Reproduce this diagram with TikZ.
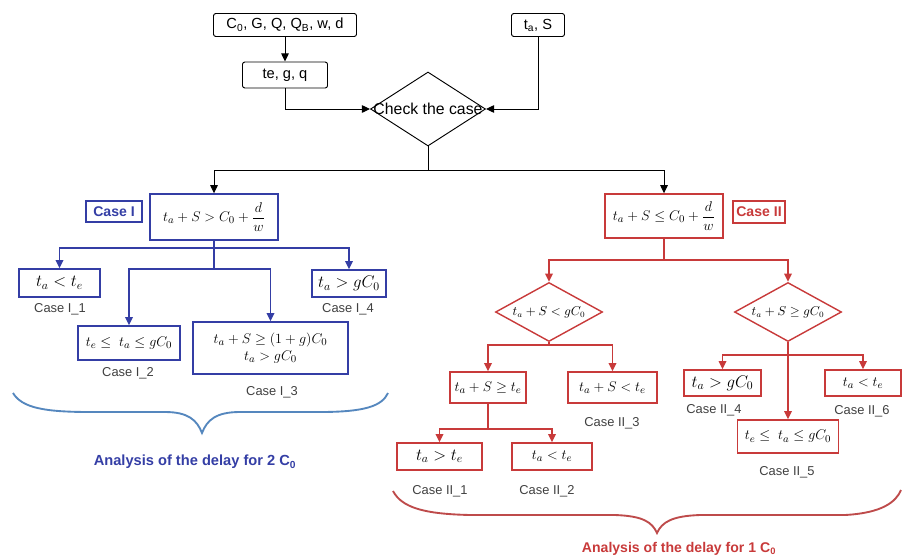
\documentclass[tikz,border=0pt]{standalone}
\usepackage{amsmath,amssymb}
\usepackage[no-math]{fontspec}
\setmainfont{Liberation Sans}
\usetikzlibrary{arrows.meta,shapes.geometric}
\definecolor{caseblue}{RGB}{52,62,165}
\definecolor{casered}{RGB}{200,58,58}
\definecolor{braceblue}{RGB}{85,135,190}
\definecolor{bracered}{RGB}{190,75,75}
\tikzset{
  blk/.style={draw, rounded corners=2pt, line width=0.8pt, inner sep=1pt, font=\fontsize{12.5}{14}\selectfont},
  bbox/.style={draw=caseblue, line width=1.2pt, inner sep=1pt, align=center, font=\fontsize{12.5}{15}\selectfont},
  rbox/.style={draw=casered, line width=1.2pt, inner sep=1pt, align=center, font=\fontsize{12.5}{15}\selectfont},
  big/.style={font=\fontsize{14.5}{16}\selectfont},
  rdia/.style={diamond, draw=casered, line width=1.2pt, inner sep=0pt, font=\fontsize{10.5}{12}\selectfont},
  lab/.style={font=\fontsize{11}{13}\selectfont, text=black!75},
  arr/.style={line width=0.8pt, -{Triangle[length=7pt,width=6.5pt]}},
  barr/.style={draw=caseblue, line width=1.2pt, -{Triangle[length=7pt,width=6.5pt]}},
  rarr/.style={draw=casered, line width=1.2pt, -{Triangle[length=7pt,width=6.5pt]}},
}
\begin{document}
\begin{tikzpicture}[x=0.03cm, y=-0.03cm]
\useasboundingbox (0,0) rectangle (902,559);
% inputs and check
\node[blk, minimum width=4.29cm, minimum height=0.69cm] (in1) at (285,25) {C\textsubscript{0}, G, Q, Q\textsubscript{B}, w, d};
\node[blk, minimum width=1.59cm, minimum height=0.69cm] (tas) at (538,25) {t\textsubscript{a}, S};
\node[blk, minimum width=2.55cm, minimum height=0.78cm] (teg) at (285,75) {te, g, q};
\node[diamond, draw, line width=0.8pt, inner sep=0pt, minimum width=3.45cm, minimum height=2.22cm,
  font=\fontsize{13.5}{15}\selectfont] (chk) at (428,109) {};
\node (chktxt) at (chk.center) [font=\fontsize{13.5}{15}\selectfont] {Check the case};
\draw[arr] (in1) -- (teg);
\draw[arr] (teg) |- (chk);
\draw[arr] (tas) |- (chk);
\coordinate (s0) at (428,170);
\draw[line width=0.8pt] (chk.south) -- (s0);
% case I
\node[bbox, minimum width=3.84cm, minimum height=1.38cm] (c1) at (214,217) {$t_a + S > C_0 + \dfrac{d}{w}$};
\node[bbox, minimum width=1.68cm, minimum height=0.63cm, text=caseblue, font=\bfseries\fontsize{12}{14}\selectfont] (casei) at (114,211.5) {Case I};
\draw[arr] (s0) -| (c1);
\node[bbox, big, minimum width=2.43cm, minimum height=0.84cm] (ca1) at (59.5,283) {$t_a < t_e$};
\node[bbox, big, minimum width=2.22cm, minimum height=0.81cm] (ca4) at (349,283.5) {$t_a > gC_0$};
\node[bbox, minimum width=3.06cm, minimum height=1.02cm] (ca2) at (129,343) {$t_e \leq\ t_a \leq gC_0$};
\node[bbox, minimum width=4.65cm, minimum height=1.56cm] (ca3) at (270.5,348) {$t_a + S \geq (1+g)C_0$\\$t_a > gC_0$};
\coordinate (b1) at (214,248);
\coordinate (b2) at (214,269);
\draw[draw=caseblue, line width=1.2pt] (c1.south) -- (b2);
\draw[barr] (b1) -| (ca1);
\draw[barr] (b1) -| (ca4);
\draw[barr] (b2) -| (ca2);
\draw[barr] (b2) -| (ca3);
\node[lab] (l11) at (60,309) {Case I\_1};
\node[lab] (l14) at (348,309) {Case I\_4};
\node[lab] (l12) at (128,373) {Case I\_2};
\node[lab] (l13) at (272,392) {Case I\_3};
\draw[draw=braceblue, line width=1.6pt] (13,393) .. controls (22,408) and (45,412) .. (90,412) -- (165,412)
  .. controls (188,412) and (197,420) .. (202,433) .. controls (207,420) and (216,412) .. (240,412) -- (320,412)
  .. controls (365,412) and (382,406) .. (388,393);
\node[text=caseblue, font=\bfseries\fontsize{12.5}{14}\selectfont] (ana2) at (195,462) {Analysis of the delay for 2 C\textsubscript{0}};
% case II
\node[rbox, minimum width=3.54cm, minimum height=1.32cm] (c2) at (664,216) {$t_a + S \leq C_0 + \dfrac{d}{w}$};
\node[rbox, minimum width=1.56cm, minimum height=0.66cm, text=casered, font=\bfseries\fontsize{12}{14}\selectfont] (caseii) at (759,212) {Case II};
\draw[arr] (s0) -| (c2);
\node[rdia, minimum width=3.21cm, minimum height=1.77cm] (d1) at (549,312) {};
\node (d1txt) at (d1.center) [font=\fontsize{10.5}{12}\selectfont] {$t_a + S < gC_0$};
\node[rdia, minimum width=3.21cm, minimum height=1.77cm] (d2) at (788,312) {};
\node (d2txt) at (d2.center) [font=\fontsize{10.5}{12}\selectfont] {$t_a + S \geq gC_0$};
\coordinate (r1) at (664,260);
\draw[draw=casered, line width=1.2pt] (c2) -- (r1);
\draw[rarr] (r1) -| (d1);
\draw[rarr] (r1) -| (d2);
\node[rbox, minimum width=2.28cm, minimum height=0.93cm] (cb1) at (488,387.5) {$t_a + S \geq t_e$};
\node[rbox, minimum width=2.67cm, minimum height=0.93cm] (cb3) at (612.5,387.5) {$t_a + S < t_e$};
\coordinate (r2) at (549,345);
\draw[draw=casered, line width=1.2pt] (d1.south) -- (r2);
\draw[rarr] (r2) -| (cb1);
\draw[rarr] (r2) -| (cb3);
\node[rbox, big, minimum width=2.55cm, minimum height=0.81cm] (ii1) at (439.5,456.5) {$t_a > t_e$};
\node[rbox, minimum width=2.4cm, minimum height=0.81cm] (ii2) at (552,456.5) {$t_a < t_e$};
\coordinate (r3) at (488,429);
\draw[draw=casered, line width=1.2pt] (cb1) -- (r3);
\draw[rarr] (r3) -| (ii1);
\draw[rarr] (r3) -| (ii2);
\node[rbox, big, minimum width=2.31cm, minimum height=0.78cm] (ii4) at (722.5,383) {$t_a > gC_0$};
\node[rbox, minimum width=2.28cm, minimum height=0.78cm] (ii6) at (863,383) {$t_a < t_e$};
\node[rbox, minimum width=3.03cm, minimum height=0.99cm] (ii5) at (788,436.5) {$t_e \leq\ t_a \leq gC_0$};
\coordinate (r4) at (788,355);
\draw[draw=casered, line width=1.2pt] (d2.south) -- (r4);
\draw[rarr] (r4) -| (ii4);
\draw[rarr] (r4) -| (ii6);
\draw[rarr] (r4) -- (ii5);
\node[lab] (l23) at (612,423) {Case II\_3};
\node[lab] (l21) at (440,491) {Case II\_1};
\node[lab] (l22) at (547,491) {Case II\_2};
\node[lab] (l24) at (714,410) {Case II\_4};
\node[lab] (l26) at (862,411) {Case II\_6};
\node[lab] (l25) at (787,472) {Case II\_5};
\draw[draw=bracered, line width=1.6pt] (393,491) .. controls (402,508) and (425,514) .. (470,515) -- (615,515)
  .. controls (643,516) and (652,522) .. (657,533) .. controls (662,522) and (672,516) .. (700,515) -- (845,515)
  .. controls (882,513) and (896,502) .. (901,490);
\node[text=casered, font=\bfseries\fontsize{12}{14}\selectfont] (ana1) at (679,549) {Analysis of the delay for 1 C\textsubscript{0}};
\end{tikzpicture}
\end{document}
